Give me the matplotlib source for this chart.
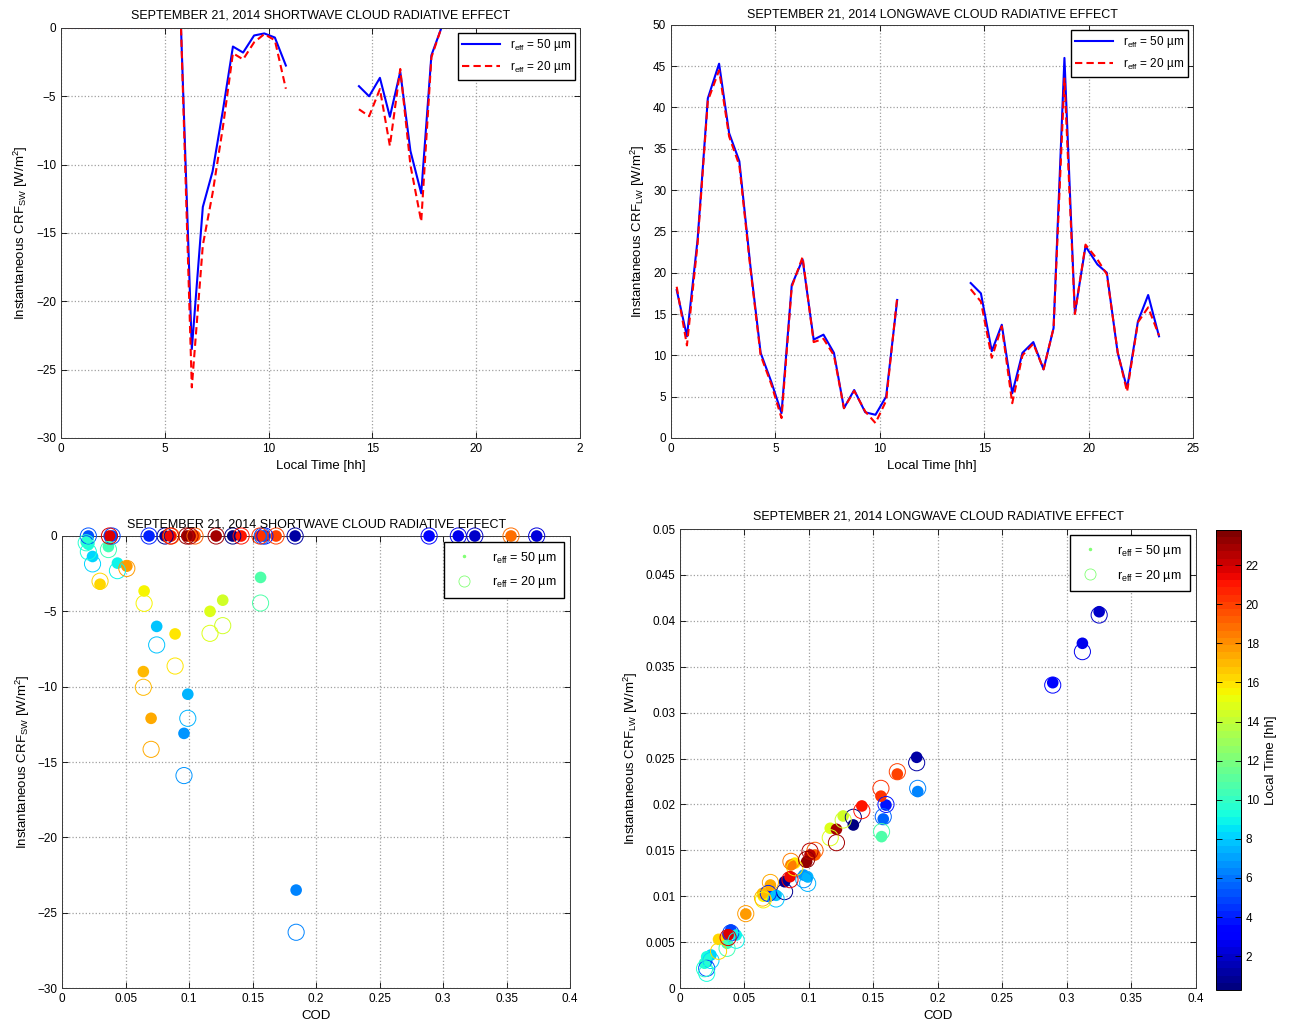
import numpy as np
import matplotlib
matplotlib.use("Agg")
import matplotlib.pyplot as plt
from matplotlib.lines import Line2D
from matplotlib.colors import Normalize
from matplotlib.ticker import FuncFormatter

plt.rcParams['font.family'] = ['Liberation Sans', 'DejaVu Sans']
plt.rcParams['mathtext.fontset'] = 'custom'
plt.rcParams['mathtext.rm'] = 'Liberation Sans'
plt.rcParams['mathtext.it'] = 'Liberation Sans:italic'
plt.rcParams['font.size'] = 8.5

# local time of each sample [hh]; 12.5 stands for the data gap
times = [0.27, 0.76, 1.27, 1.76, 2.30, 2.78, 3.27, 3.80, 4.29, 4.80, 5.29, 5.78,
         6.30, 6.83, 7.30, 7.80, 8.28, 8.77, 9.30, 9.79, 10.30, 10.83,
         12.50,
         14.35, 14.84, 15.36, 15.84, 16.34, 16.83, 17.35, 17.84,
         18.32, 18.84, 19.34, 19.85, 20.42, 20.87, 21.39, 21.84, 22.36, 22.85, 23.37, 23.80]
nan = np.nan

# shortwave CRE [W/m2]
sw50 = [0, 0, 0, 0, 0, 0, 0, 0, 0, 0, 0, 0,
        -23.5, -13.1, -10.5, -6.0, -1.36, -1.8, -0.55, -0.4, -0.7, -2.75,
        nan,
        -4.26, -5.0, -3.65, -6.5, -3.2, -9.0, -12.1, -2.0,
        0, 0, 0, 0, 0, 0, 0, 0, 0, 0, 0, 0]
sw20 = [0, 0, 0, 0, 0, 0, 0, 0, 0, 0, 0, 0,
        -26.3, -15.9, -12.1, -7.23, -1.85, -2.3, -1.05, -0.45, -0.9, -4.45,
        nan,
        -5.95, -6.46, -4.47, -8.63, -3.0, -10.04, -14.16, -2.15,
        0, 0, 0, 0, 0, 0, 0, 0, 0, 0, 0, 0]

# longwave CRE [W/m2]
lw50 = [17.9, 12.3, 24.0, 41.1, 45.3, 36.9, 33.5, 20.8, 10.3, 6.8, 3.0, 18.5,
        21.6, 11.9, 12.5, 10.3, 3.6, 5.8, 3.1, 2.8, 5.0, 16.7,
        nan,
        18.75, 17.5, 10.5, 13.7, 5.4, 10.3, 11.6, 8.3,
        13.3, 46.0, 15.1, 23.2, 21.0, 20.0, 10.3, 6.0, 14.1, 17.3, 12.3, nan]
lw20 = [18.3, 11.2, 23.5, 40.8, 44.5, 36.5, 33.0, 20.5, 10.0, 6.5, 2.4, 18.3,
        21.9, 11.6, 12.0, 10.0, 3.6, 5.7, 3.2, 1.8, 4.5, 17.0,
        nan,
        18.0, 16.5, 9.7, 13.5, 4.2, 10.0, 11.4, 8.3,
        13.3, 43.5, 15.0, 23.4, 21.6, 19.8, 10.4, 5.6, 14.0, 15.8, 12.4, nan]

# cloud optical depth
cod = [0.1344, 0.0811, 0.1835, 0.325, 0.3737, 0.312, 0.289, 0.1597, 0.0685, 0.0394, 0.0207, 0.1576,
       0.1843, 0.096, 0.099, 0.0745, 0.024, 0.0436, 0.0207, 0.019, 0.0365, 0.1563,
       nan,
       0.1265, 0.1165, 0.0646, 0.089, 0.0299, 0.064, 0.0701, 0.051,
       0.086, 0.3535, 0.1047, 0.1685, 0.1558, 0.141, 0.0853, 0.0373, 0.1008, 0.1213, 0.0982, nan]

# values shown in the lower right panel
lw_sc50 = [0.01776, 0.01158, 0.02513, 0.04099, nan, 0.03755, 0.03326, 0.01993, 0.0101, 0.00632, 0.00287, 0.01841,
           0.0214, 0.0123, 0.0121, 0.0101, 0.0036, 0.00577, 0.0034, 0.0027, 0.00487, 0.01649,
           nan,
           0.01874, 0.0174, 0.0100, 0.0136, 0.0053, 0.0103, 0.01122, 0.00806,
           0.0134, nan, 0.01449, 0.02331, 0.0209, 0.01983, 0.01213, 0.00577, 0.0145, 0.01729, 0.01376, nan]
lw_sc20 = [0.0186, 0.0105, 0.02454, 0.04063, nan, 0.03664, 0.0330, 0.0200, 0.0103, 0.0060, 0.00215, 0.01866,
           0.02175, 0.0118, 0.0114, 0.0097, 0.0030, 0.0052, 0.0016, 0.0021, 0.00432, 0.01703,
           nan,
           0.0183, 0.01637, 0.0096, 0.0131, 0.0040, 0.0098, 0.0115, 0.0081,
           0.0138, nan, 0.0150, 0.02356, 0.02175, 0.01932, 0.0118, 0.0055, 0.0149, 0.01583, 0.0140, nan]

t = np.array(times)
cmap = plt.get_cmap('jet', 64)
norm = Normalize(vmin=0.27, vmax=23.8)

lab50 = r'r$_{\mathrm{eff}}$ = 50 µm'
lab20 = r'r$_{\mathrm{eff}}$ = 20 µm'


def style(ax):
    ax.grid(True, linestyle=':', color='#a0a0a0', linewidth=0.9)
    ax.set_axisbelow(True)
    ax.tick_params(direction='in', top=True, right=True, length=4, width=0.6, labelsize=8.5)
    for s in ax.spines.values():
        s.set_linewidth(0.7)
        s.set_color('#3a3a3a')


fig = plt.figure(figsize=(12.93, 10.28), dpi=100)

# ---- top left: shortwave time series
ax1 = fig.add_axes([0.0472, 0.574, 0.4014, 0.3988])
ax1.plot(t, sw50, color='blue', lw=1.5, label=lab50)
ax1.plot(t, sw20, color='red', ls='--', dashes=(3.5, 2), lw=1.5, label=lab20)
ax1.set_xlim(0, 25)
ax1.set_ylim(-30, 0)
ax1.set_xticks(range(0, 26, 5))
ax1.set_xticklabels(['0', '5', '10', '15', '20', '2'])
ax1.set_yticks(range(-30, 1, 5))
style(ax1)
ax1.set_title('SEPTEMBER 21, 2014 SHORTWAVE CLOUD RADIATIVE EFFECT', fontsize=9, pad=7)
ax1.set_xlabel('Local Time [hh]', fontsize=9.5)
ax1.set_ylabel(r'Instantaneous CRF$_{\mathrm{SW}}$ [W/m$^2$]', fontsize=9.5)
ax1.legend(loc='upper right', fancybox=False, edgecolor='black', framealpha=1,
           handlelength=3.2, fontsize=8.5, borderaxespad=0.4)

# ---- top right: longwave time series
ax2 = fig.add_axes([0.519, 0.574, 0.4037, 0.4018])
ax2.plot(t, lw50, color='blue', lw=1.5, label=lab50)
ax2.plot(t, lw20, color='red', ls='--', dashes=(3.5, 2), lw=1.5, label=lab20)
ax2.set_xlim(0, 25)
ax2.set_ylim(0, 50)
ax2.set_xticks(range(0, 26, 5))
ax2.set_yticks(range(0, 51, 5))
style(ax2)
ax2.set_title('SEPTEMBER 21, 2014 LONGWAVE CLOUD RADIATIVE EFFECT', fontsize=9, pad=5)
ax2.set_xlabel('Local Time [hh]', fontsize=9.5)
ax2.set_ylabel(r'Instantaneous CRF$_{\mathrm{LW}}$ [W/m$^2$]', fontsize=9.5)
ax2.legend(loc='upper right', fancybox=False, edgecolor='black', framealpha=1,
           handlelength=3.2, fontsize=8.5, borderaxespad=0.4)

gfmt = FuncFormatter(lambda v, p: '%g' % round(v, 4))
leg_handles = [Line2D([], [], marker='.', ls='none', color=cmap(0.5), markersize=3),
               Line2D([], [], marker='o', ls='none', mfc='none', mec=cmap(0.5), markersize=8, mew=0.6)]


def scatter_panel(ax, x, y50, y20):
    x = np.array(x)
    y50 = np.array(y50)
    y20 = np.array(y20)
    m = ~np.isnan(x) & ~np.isnan(y50)
    cols = cmap(norm(t[m]))
    ax.scatter(x[m], y50[m], s=70, c=cols, edgecolors='none', clip_on=False, zorder=3)
    ax.scatter(x[m], y20[m], s=135, facecolors='none', edgecolors=cols, linewidths=0.7,
               clip_on=False, zorder=3)
    ax.legend(leg_handles, [lab50, lab20], loc='upper right', fancybox=False, edgecolor='black',
              framealpha=1, fontsize=9, borderaxespad=0.5, handletextpad=1.2, borderpad=0.6,
              labelspacing=0.7)


# ---- bottom left: SW vs COD
ax3 = fig.add_axes([0.048, 0.0389, 0.3929, 0.4397])
scatter_panel(ax3, cod, sw50, sw20)
ax3.set_xlim(0, 0.4)
ax3.set_ylim(-30, 0)
ax3.set_xticks(np.arange(0, 0.401, 0.05))
ax3.set_yticks(range(-30, 1, 5))
ax3.xaxis.set_major_formatter(gfmt)
style(ax3)
ax3.set_title('SEPTEMBER 21, 2014 SHORTWAVE CLOUD RADIATIVE EFFECT', fontsize=9, pad=6)
ax3.set_xlabel('COD', fontsize=9.5)
ax3.set_ylabel(r'Instantaneous CRF$_{\mathrm{SW}}$ [W/m$^2$]', fontsize=9.5)

# ---- bottom right: LW vs COD
ax4 = fig.add_axes([0.5259, 0.0389, 0.399, 0.4465])
scatter_panel(ax4, cod, lw_sc50, lw_sc20)
ax4.set_xlim(0, 0.4)
ax4.set_ylim(0, 0.05)
ax4.set_xticks(np.arange(0, 0.401, 0.05))
ax4.set_yticks(np.arange(0, 0.0501, 0.005))
ax4.xaxis.set_major_formatter(gfmt)
ax4.yaxis.set_major_formatter(gfmt)
style(ax4)
ax4.set_title('SEPTEMBER 21, 2014 LONGWAVE CLOUD RADIATIVE EFFECT', fontsize=9, pad=7)
ax4.set_xlabel('COD', fontsize=9.5)
ax4.set_ylabel(r'Instantaneous CRF$_{\mathrm{LW}}$ [W/m$^2$]', fontsize=9.5)

cax = fig.add_axes([0.9404, 0.037, 0.0193, 0.4475])
sm = plt.cm.ScalarMappable(norm=norm, cmap=cmap)
cb = fig.colorbar(sm, cax=cax)
cb.set_ticks(range(2, 23, 2))
cb.ax.tick_params(direction='in', left=True, right=True, length=4, width=0.6, labelsize=8.5)
cb.outline.set_linewidth(0.7)
cb.set_label('Local Time [hh]', fontsize=9.5)

fig.savefig('out.png', dpi=100)
